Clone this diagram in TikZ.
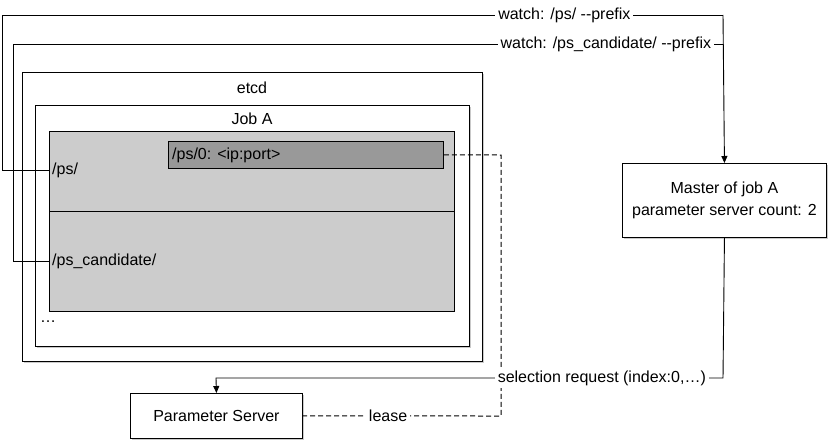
\documentclass[tikz,border=0pt]{standalone}
\usepackage{fontspec}
\setmainfont{Liberation Sans}
\usetikzlibrary{arrows.meta,shadows}
\begin{document}
\begin{tikzpicture}[x=1pt,y=-1pt,
  every node/.style={font=\fontsize{16}{22}\selectfont},
  ln/.style={line width=0.9pt},
  box/.style={draw,line width=0.9pt,fill=white,inner sep=0pt,anchor=north west,
     drop shadow={shadow xshift=1.2pt,shadow yshift=-1.2pt,opacity=0.35,fill=black!60}},
  plain/.style={draw,line width=0.9pt,inner sep=0pt,anchor=north west},
  lab/.style={fill=white,inner sep=3pt},
  txt/.style={inner sep=0pt,anchor=west},
  arr/.style={ln,-{Triangle[length=7pt,width=6pt]}},
  dsh/.style={draw=black,line width=1pt,dash pattern=on 5pt off 3pt}
]
\useasboundingbox (0,0) rectangle (829,444);
% etcd boxes
\node[box,minimum width=460,minimum height=289] (etcd) at (22,72) {};
\node[anchor=center] (etcdlab) at (252,88) {etcd};
\node[box,minimum width=434,minimum height=241] (joba) at (35,105) {};
\node[anchor=center] (jobalab) at (252,119) {Job A};
\node[plain,fill=black!20,minimum width=405,minimum height=180] (grey) at (49,131) {};
\draw[ln] (49,211) -- (454,211);
\node[plain,fill=black!40,minimum width=275,minimum height=27] (ip) at (168,141) {};
\node[txt] (iplab) at (172,155) {/ps/0: <ip:port>};
\node[txt] (ps) at (52,170) {/ps/};
\node[txt] (pscand) at (52,261) {/ps\_candidate/};
\node[txt] (dots) at (40,322) {\dots};
% Master
\node[box,minimum width=204,minimum height=74] (master) at (622,163) {};
\node[align=center] (mastertxt) at (master.center) {Master of job A\\parameter server count: 2};
% Parameter Server
\node[box,minimum width=172,minimum height=45] (psrv) at (130,393) {};
\node (psrvtxt) at (psrv.center) {Parameter Server};
% coordinates
\coordinate (a1) at (2,15);
\coordinate (a2) at (723,15);
\coordinate (b1) at (13,44);
\coordinate (b2) at (723,44);
\coordinate (d1) at (501,155);
\coordinate (d2) at (501,416);
\coordinate (s1) at (723,378);
\coordinate (s2) at (216,378);
% watch connectors
\draw[ln] (49,170) -| (a1) -- node[lab,pos=0.78] {watch: /ps/ {-}{-}prefix} (a2);
\draw[arr] (a2) -- (master.north);
\draw[ln] (49,261) -| (b1) -- node[lab,pos=0.835] {watch: /ps\_candidate/ {-}{-}prefix} (b2);
% lease
\draw[dsh] (ip.east) -- (d1) -- (d2) -- node[lab,pos=0.57] {lease} (psrv.east);
% selection
\draw[arr] (master.south) -- (s1) -- node[lab,pos=0.239] {selection request (index:0,…)} (s2) -- (psrv.north);
\end{tikzpicture}
\end{document}
